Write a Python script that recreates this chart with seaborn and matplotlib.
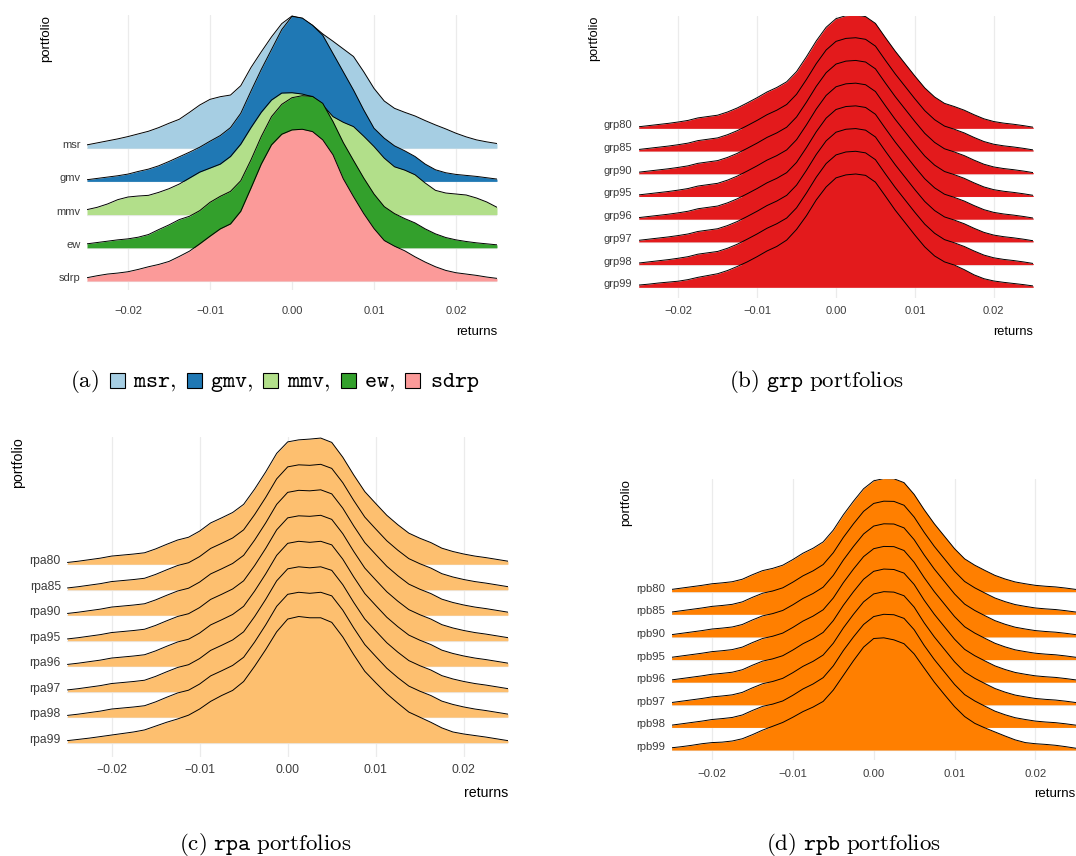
import numpy as np
import matplotlib
matplotlib.use("Agg")
import matplotlib.pyplot as plt
import seaborn as sns
from matplotlib.patches import Rectangle

# ---------------- data (ridge heights, in units of ridge spacing) ----------------
RETURNS = [-0.025, -0.02375, -0.0225, -0.02125, -0.02, -0.01875, -0.0175, -0.01625,
           -0.015, -0.01375, -0.0125, -0.01125, -0.01, -0.00875, -0.0075, -0.00625,
           -0.005, -0.00375, -0.0025, -0.00125, 0.0, 0.00125, 0.0025, 0.00375, 0.005,
           0.00625, 0.0075, 0.00875, 0.01, 0.01125, 0.0125, 0.01375, 0.015, 0.01625,
           0.0175, 0.01875, 0.02, 0.02125, 0.0225, 0.02375, 0.025]

X_TICKS = [-0.02, -0.01, 0.0, 0.01, 0.02]
X_TICK_LABELS = ["\u22120.02", "\u22120.01", "0.00", "0.01", "0.02"]

# panel (a)
A_NAMES = ["msr", "gmv", "mmv", "ew", "sdrp"]
msr = [0.10, 0.16, 0.22, 0.28, 0.35, 0.43, 0.51, 0.62, 0.75, 0.87, 1.08, 1.30, 1.47, 1.55,
       1.60, 1.88, 2.43, 2.90, 3.35, 3.75, 3.98, 3.90, 3.70, 3.44, 3.22, 2.99, 2.76, 2.30,
       1.80, 1.42, 1.20, 1.08, 0.97, 0.83, 0.70, 0.58, 0.45, 0.34, 0.25, 0.19, 0.14]
gmv = [0.05, 0.09, 0.13, 0.17, 0.22, 0.30, 0.37, 0.47, 0.60, 0.74, 0.88, 1.03, 1.21, 1.38,
       1.62, 2.05, 2.72, 3.37, 3.97, 4.57, 4.97, 4.92, 4.70, 4.40, 3.85, 3.30, 2.75, 2.15,
       1.60, 1.30, 1.07, 0.92, 0.75, 0.52, 0.35, 0.26, 0.21, 0.18, 0.15, 0.11, 0.07]
mmv = [0.15, 0.22, 0.32, 0.45, 0.53, 0.56, 0.58, 0.67, 0.78, 0.92, 1.10, 1.28, 1.40, 1.52,
       1.75, 2.12, 2.62, 3.08, 3.45, 3.66, 3.67, 3.63, 3.55, 3.30, 2.95, 2.78, 2.65, 2.36,
       2.05, 1.70, 1.44, 1.34, 1.20, 0.95, 0.73, 0.65, 0.62, 0.59, 0.50, 0.38, 0.22]
ew = [0.12, 0.16, 0.20, 0.24, 0.27, 0.32, 0.40, 0.55, 0.69, 0.85, 0.95, 1.12, 1.37, 1.55,
      1.70, 2.02, 2.65, 3.35, 3.95, 4.32, 4.52, 4.58, 4.56, 4.35, 3.80, 3.17, 2.63, 2.10,
      1.62, 1.24, 1.03, 0.88, 0.75, 0.57, 0.42, 0.31, 0.24, 0.19, 0.15, 0.12, 0.09]
sdrp = [0.10, 0.16, 0.21, 0.24, 0.28, 0.35, 0.43, 0.50, 0.59, 0.74, 0.90, 1.12, 1.35, 1.57,
        1.72, 2.10, 2.80, 3.52, 4.10, 4.42, 4.55, 4.57, 4.50, 4.25, 3.80, 3.08, 2.54, 2.03,
        1.58, 1.22, 1.05, 0.91, 0.73, 0.57, 0.43, 0.32, 0.25, 0.21, 0.17, 0.12, 0.08]

# panel (b)
B_NAMES = ["grp80", "grp85", "grp90", "grp95", "grp96", "grp97", "grp98", "grp99"]
grp80 = [0.07, 0.12, 0.17, 0.22, 0.28, 0.35, 0.46, 0.52, 0.58, 0.72, 0.90, 1.12, 1.35, 1.60,
         1.80, 2.05, 2.50, 3.15, 3.85, 4.45, 4.83, 4.96, 4.99, 4.92, 4.62, 4.00, 3.40, 2.85,
         2.30, 1.78, 1.38, 1.10, 0.96, 0.80, 0.60, 0.42, 0.30, 0.23, 0.18, 0.12, 0.05]
grp85 = [0.07, 0.12, 0.17, 0.22, 0.28, 0.35, 0.46, 0.52, 0.58, 0.72, 0.90, 1.12, 1.35, 1.60,
         1.80, 2.05, 2.50, 3.15, 3.85, 4.45, 4.83, 4.96, 4.99, 4.92, 4.62, 4.00, 3.40, 2.85,
         2.30, 1.78, 1.38, 1.10, 0.96, 0.80, 0.60, 0.42, 0.30, 0.23, 0.18, 0.12, 0.05]
grp90 = [0.07, 0.12, 0.17, 0.22, 0.28, 0.35, 0.46, 0.52, 0.58, 0.72, 0.90, 1.12, 1.35, 1.60,
         1.80, 2.05, 2.50, 3.15, 3.85, 4.45, 4.83, 4.96, 4.99, 4.92, 4.62, 4.00, 3.40, 2.85,
         2.30, 1.78, 1.38, 1.10, 0.96, 0.80, 0.60, 0.42, 0.30, 0.23, 0.18, 0.12, 0.05]
grp95 = [0.07, 0.12, 0.17, 0.22, 0.28, 0.35, 0.46, 0.52, 0.58, 0.72, 0.90, 1.12, 1.35, 1.60,
         1.80, 2.05, 2.50, 3.15, 3.85, 4.45, 4.83, 4.96, 4.99, 4.92, 4.62, 4.00, 3.40, 2.85,
         2.30, 1.78, 1.38, 1.10, 0.96, 0.80, 0.60, 0.42, 0.30, 0.23, 0.18, 0.12, 0.05]
grp96 = [0.07, 0.12, 0.17, 0.22, 0.28, 0.35, 0.46, 0.52, 0.58, 0.72, 0.90, 1.12, 1.35, 1.60,
         1.80, 2.05, 2.50, 3.15, 3.85, 4.45, 4.83, 4.96, 4.99, 4.92, 4.62, 4.00, 3.40, 2.85,
         2.30, 1.78, 1.38, 1.10, 0.96, 0.80, 0.60, 0.42, 0.30, 0.23, 0.18, 0.12, 0.05]
grp97 = [0.07, 0.12, 0.17, 0.22, 0.28, 0.35, 0.46, 0.52, 0.58, 0.72, 0.90, 1.12, 1.35, 1.60,
         1.80, 2.05, 2.50, 3.15, 3.85, 4.45, 4.83, 4.96, 4.99, 4.92, 4.62, 4.00, 3.40, 2.85,
         2.30, 1.78, 1.38, 1.10, 0.96, 0.80, 0.60, 0.42, 0.30, 0.23, 0.18, 0.12, 0.05]
grp98 = [0.07, 0.12, 0.17, 0.22, 0.28, 0.35, 0.46, 0.52, 0.58, 0.72, 0.90, 1.12, 1.35, 1.60,
         1.80, 2.05, 2.50, 3.15, 3.85, 4.45, 4.83, 4.96, 4.99, 4.92, 4.62, 4.00, 3.40, 2.85,
         2.30, 1.78, 1.38, 1.10, 0.96, 0.80, 0.60, 0.42, 0.30, 0.23, 0.18, 0.12, 0.05]
grp99 = [0.10, 0.14, 0.19, 0.23, 0.27, 0.34, 0.44, 0.52, 0.60, 0.74, 0.92, 1.12, 1.35, 1.60,
         1.80, 2.08, 2.55, 3.15, 3.85, 4.42, 4.82, 4.95, 4.99, 4.93, 4.63, 4.02, 3.40, 2.85,
         2.30, 1.78, 1.38, 1.12, 0.98, 0.78, 0.55, 0.38, 0.28, 0.22, 0.17, 0.12, 0.06]

# panel (c)
C_NAMES = ["rpa80", "rpa85", "rpa90", "rpa95", "rpa96", "rpa97", "rpa98", "rpa99"]
rpa80 = [0.07, 0.12, 0.18, 0.24, 0.32, 0.36, 0.40, 0.45, 0.60, 0.78, 0.95, 1.06, 1.30, 1.62,
         1.82, 2.03, 2.35, 2.95, 3.62, 4.35, 4.80, 4.88, 4.91, 4.95, 4.78, 4.20, 3.50, 2.85,
         2.38, 1.92, 1.55, 1.22, 1.02, 0.85, 0.63, 0.50, 0.40, 0.32, 0.26, 0.19, 0.12]
rpa85 = [0.07, 0.12, 0.18, 0.24, 0.32, 0.36, 0.40, 0.45, 0.60, 0.78, 0.95, 1.06, 1.30, 1.62,
         1.82, 2.03, 2.35, 2.95, 3.62, 4.35, 4.82, 4.90, 4.88, 4.92, 4.76, 4.20, 3.50, 2.85,
         2.38, 1.92, 1.55, 1.22, 1.02, 0.85, 0.63, 0.50, 0.40, 0.32, 0.26, 0.19, 0.12]
rpa90 = [0.07, 0.12, 0.18, 0.24, 0.32, 0.36, 0.40, 0.45, 0.60, 0.78, 0.95, 1.06, 1.30, 1.62,
         1.82, 2.03, 2.35, 2.95, 3.62, 4.35, 4.82, 4.90, 4.88, 4.92, 4.76, 4.20, 3.50, 2.85,
         2.38, 1.92, 1.55, 1.22, 1.02, 0.85, 0.63, 0.50, 0.40, 0.32, 0.26, 0.19, 0.12]
rpa95 = [0.07, 0.12, 0.18, 0.24, 0.32, 0.36, 0.40, 0.45, 0.60, 0.78, 0.95, 1.06, 1.30, 1.62,
         1.82, 2.03, 2.35, 2.95, 3.62, 4.35, 4.82, 4.90, 4.88, 4.92, 4.76, 4.20, 3.50, 2.85,
         2.38, 1.92, 1.55, 1.22, 1.02, 0.85, 0.63, 0.50, 0.40, 0.32, 0.26, 0.19, 0.12]
rpa96 = [0.07, 0.12, 0.18, 0.24, 0.32, 0.36, 0.40, 0.45, 0.60, 0.78, 0.95, 1.06, 1.30, 1.62,
         1.82, 2.03, 2.35, 2.95, 3.62, 4.35, 4.82, 4.90, 4.86, 4.90, 4.76, 4.20, 3.50, 2.85,
         2.38, 1.92, 1.55, 1.22, 1.02, 0.85, 0.63, 0.50, 0.40, 0.32, 0.26, 0.19, 0.12]
rpa97 = [0.07, 0.12, 0.18, 0.24, 0.32, 0.36, 0.40, 0.45, 0.60, 0.78, 0.95, 1.06, 1.30, 1.62,
         1.82, 2.03, 2.35, 2.95, 3.62, 4.35, 4.82, 4.90, 4.86, 4.90, 4.76, 4.20, 3.50, 2.85,
         2.38, 1.92, 1.55, 1.22, 1.02, 0.85, 0.63, 0.50, 0.40, 0.32, 0.26, 0.19, 0.12]
rpa98 = [0.07, 0.12, 0.18, 0.24, 0.32, 0.36, 0.40, 0.45, 0.60, 0.78, 0.95, 1.06, 1.30, 1.62,
         1.82, 2.03, 2.35, 2.95, 3.62, 4.35, 4.82, 4.90, 4.86, 4.90, 4.76, 4.20, 3.50, 2.85,
         2.38, 1.92, 1.55, 1.22, 1.02, 0.85, 0.63, 0.50, 0.40, 0.32, 0.26, 0.19, 0.12]
rpa99 = [0.08, 0.13, 0.18, 0.24, 0.30, 0.36, 0.42, 0.50, 0.65, 0.80, 0.93, 1.08, 1.32, 1.62,
         1.85, 2.05, 2.40, 3.00, 3.65, 4.35, 4.85, 4.95, 4.90, 4.90, 4.72, 4.15, 3.45, 2.80,
         2.35, 1.92, 1.55, 1.20, 1.00, 0.80, 0.58, 0.42, 0.34, 0.28, 0.22, 0.15, 0.08]

# panel (d)
D_NAMES = ["rpb80", "rpb85", "rpb90", "rpb95", "rpb96", "rpb97", "rpb98", "rpb99"]
rpb80 = [0.10, 0.16, 0.22, 0.28, 0.35, 0.39, 0.44, 0.55, 0.75, 0.93, 1.03, 1.17, 1.42, 1.70,
         1.92, 2.20, 2.72, 3.40, 4.00, 4.55, 4.90, 5.00, 4.99, 4.82, 4.30, 3.62, 3.00, 2.45,
         1.90, 1.45, 1.17, 0.94, 0.72, 0.56, 0.43, 0.35, 0.28, 0.24, 0.21, 0.16, 0.10]
rpb85 = [0.10, 0.16, 0.22, 0.28, 0.35, 0.39, 0.44, 0.55, 0.75, 0.93, 1.03, 1.17, 1.42, 1.70,
         1.92, 2.20, 2.72, 3.40, 4.00, 4.55, 4.90, 5.00, 4.99, 4.82, 4.30, 3.62, 3.00, 2.45,
         1.90, 1.45, 1.17, 0.94, 0.72, 0.56, 0.43, 0.35, 0.28, 0.24, 0.21, 0.16, 0.10]
rpb90 = [0.10, 0.16, 0.22, 0.28, 0.35, 0.39, 0.44, 0.55, 0.75, 0.93, 1.03, 1.17, 1.42, 1.70,
         1.92, 2.20, 2.72, 3.40, 4.00, 4.55, 4.90, 5.00, 4.99, 4.82, 4.30, 3.62, 3.00, 2.45,
         1.90, 1.45, 1.17, 0.94, 0.72, 0.56, 0.43, 0.35, 0.28, 0.24, 0.21, 0.16, 0.10]
rpb95 = [0.10, 0.16, 0.22, 0.28, 0.35, 0.39, 0.44, 0.55, 0.75, 0.93, 1.03, 1.17, 1.42, 1.70,
         1.92, 2.20, 2.72, 3.40, 4.00, 4.55, 4.90, 5.00, 4.99, 4.82, 4.30, 3.62, 3.00, 2.45,
         1.90, 1.45, 1.17, 0.94, 0.72, 0.56, 0.43, 0.35, 0.28, 0.24, 0.21, 0.16, 0.10]
rpb96 = [0.10, 0.16, 0.22, 0.28, 0.35, 0.39, 0.44, 0.55, 0.75, 0.93, 1.03, 1.17, 1.42, 1.70,
         1.92, 2.20, 2.72, 3.40, 4.00, 4.55, 4.90, 5.00, 4.98, 4.82, 4.32, 3.62, 3.00, 2.45,
         1.90, 1.45, 1.17, 0.94, 0.72, 0.56, 0.43, 0.35, 0.28, 0.24, 0.21, 0.16, 0.10]
rpb97 = [0.10, 0.16, 0.22, 0.28, 0.35, 0.39, 0.44, 0.55, 0.75, 0.93, 1.03, 1.17, 1.42, 1.70,
         1.92, 2.20, 2.72, 3.40, 4.00, 4.55, 4.90, 5.00, 4.98, 4.82, 4.32, 3.62, 3.00, 2.45,
         1.90, 1.45, 1.17, 0.94, 0.72, 0.56, 0.43, 0.35, 0.28, 0.24, 0.21, 0.16, 0.10]
rpb98 = [0.10, 0.16, 0.22, 0.28, 0.35, 0.39, 0.44, 0.55, 0.75, 0.93, 1.03, 1.17, 1.42, 1.70,
         1.92, 2.20, 2.72, 3.40, 4.00, 4.55, 4.90, 5.00, 4.98, 4.82, 4.32, 3.62, 3.00, 2.45,
         1.90, 1.45, 1.17, 0.94, 0.72, 0.56, 0.43, 0.35, 0.28, 0.24, 0.21, 0.16, 0.10]
rpb99 = [0.10, 0.15, 0.21, 0.28, 0.33, 0.35, 0.40, 0.50, 0.68, 0.88, 1.05, 1.22, 1.45, 1.70,
         1.90, 2.15, 2.65, 3.30, 3.95, 4.55, 4.93, 4.96, 4.87, 4.70, 4.25, 3.62, 3.00, 2.45,
         1.92, 1.48, 1.18, 0.98, 0.80, 0.62, 0.45, 0.33, 0.28, 0.25, 0.21, 0.15, 0.08]

# ---------------- style ----------------
sns.set_theme(style="white")
plt.rcParams["font.family"] = ["Liberation Sans", "DejaVu Sans"]
plt.rcParams["mathtext.fontset"] = "cm"

pal = sns.color_palette("Paired")
A_COLORS = [pal[0], pal[1], pal[2], pal[3], pal[4]]
B_COLOR = pal[5]
C_COLOR = pal[6]
D_COLOR = pal[7]

W, H = 1076, 856
fig = plt.figure(figsize=(W / 100, H / 100), dpi=100)
fig.patch.set_facecolor("white")


def px_axes(left, right, top, bottom):
    return fig.add_axes([left / W, 1 - bottom / H, (right - left) / W, (bottom - top) / H])


def ridges(ax, names, series, colors, ylim, fs, xpad):
    n = len(names)
    for k, (vals, col) in enumerate(zip(series, colors)):
        base = n - 1 - k
        top = np.asarray(vals) + base
        z = 3 + 2 * k
        ax.fill_between(RETURNS, base, top, color=col, lw=0, zorder=z)
        sns.lineplot(x=RETURNS, y=top, color="black", lw=0.7, ax=ax, zorder=z + 1,
                     estimator=None, sort=False, legend=False)
    ax.set_xlim(-0.025, 0.025)
    ax.set_ylim(*ylim)
    ax.set_xticks(X_TICKS)
    ax.set_xticklabels(X_TICK_LABELS)
    ax.set_yticks(list(range(n - 1, -1, -1)))
    ax.set_yticklabels(names)
    for lab in ax.get_yticklabels():
        lab.set_verticalalignment("baseline")
    ax.tick_params(axis="x", length=0, pad=xpad, labelsize=fs, labelcolor="#3d3d3d")
    ax.tick_params(axis="y", length=0, pad=4.8, labelsize=fs, labelcolor="#3d3d3d")
    ax.grid(True, color="#ebebeb", lw=0.9, zorder=0)
    ax.set_axisbelow(True)
    for s in ax.spines.values():
        s.set_visible(False)
    ax.set_xlabel("")
    ax.set_ylabel("")
    ax.set_facecolor("white")


# panel (a)
axa = px_axes(87, 497, 15, 290)
ridges(axa, A_NAMES, [msr, gmv, mmv, ew, sdrp], A_COLORS, (-0.27, 8.01), 8, 11.5)
# panel (b)
axb = px_axes(638.75, 1033.25, 15.7, 298)
ridges(axb, B_NAMES, [grp80, grp85, grp90, grp95, grp96, grp97, grp98, grp99],
       [B_COLOR] * 8, (-0.47, 11.96), 8, 5.8)
# panel (c)
axc = px_axes(67.45, 507.95, 437.3, 756.7)
ridges(axc, C_NAMES, [rpa80, rpa85, rpa90, rpa95, rpa96, rpa97, rpa98, rpa99],
       [C_COLOR] * 8, (-0.55, 11.98), 8.7, 5.3)
# panel (d)
axd = px_axes(671.6, 1075.8, 479, 760)
ridges(axd, D_NAMES, [rpb80, rpb85, rpb90, rpb95, rpb96, rpb97, rpb98, rpb99],
       [D_COLOR] * 8, (-0.44, 11.98), 8.2, 6.5)


def ftext(x, y, s, **kw):
    return fig.text(x / W, 1 - y / H, s, **kw)


# axis titles
for (xr, yb, fs) in [(497, 335, 9.5), (1033.25, 335, 9.2), (507.95, 796.7, 10.2), (1075.5, 797, 9.5)]:
    ftext(xr, yb, "returns", ha="right", va="baseline", fontsize=fs, color="black")
for (xc, yt, fs) in [(46, 15, 9.5), (594, 15.7, 9.2), (18, 437.3, 10.2), (625.7, 479, 9.5)]:
    ftext(xc, yt, "portfolio", ha="center", va="top", rotation=90, fontsize=fs, color="black")

# captions
CAP_FS = 16.5
ftext(816.5, 387, r"$\mathrm{(b)}\ \mathtt{grp}\ \mathrm{portfolios}$", ha="center",
      va="baseline", fontsize=CAP_FS, color="black")
ftext(265.5, 850, r"$\mathrm{(c)}\ \mathtt{rpa}\ \mathrm{portfolios}$", ha="center",
      va="baseline", fontsize=CAP_FS, color="black")
ftext(853.5, 850, r"$\mathrm{(d)}\ \mathtt{rpb}\ \mathrm{portfolios}$", ha="center",
      va="baseline", fontsize=CAP_FS, color="black")

ftext(70, 387, r"$\mathrm{(a)}$", ha="left", va="baseline", fontsize=CAP_FS, color="black")
cap_items = [(110, "msr,", 133), (187, "gmv,", 210), (263, "mmv,", 287), (341, "ew,", 364),
             (405, "sdrp", 430)]
for (sx, lab, tx), col in zip(cap_items, A_COLORS):
    fig.add_artist(Rectangle((sx / W, 1 - 388 / H), 14.5 / W, 15 / H, transform=fig.transFigure,
                             facecolor=col, edgecolor="black", lw=0.8))
    ftext(tx, 387, r"$\mathtt{" + lab + "}$", ha="left", va="baseline", fontsize=CAP_FS,
          color="black")

fig.savefig("out.png", dpi=100, facecolor="white")
